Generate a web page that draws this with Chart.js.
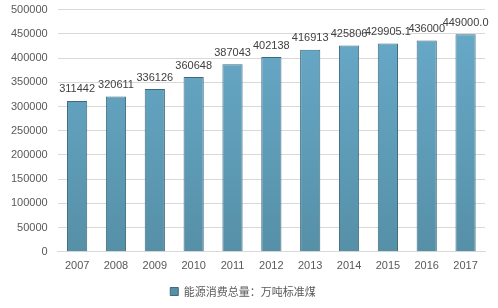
<!DOCTYPE html>
<html>
<head>
<meta charset="utf-8">
<script src="https://cdn.jsdelivr.net/npm/chart.js@4"></script>
<style>
  html, body { margin: 0; padding: 0; background: #fff; overflow: hidden; }
  #wrap { position: relative; top: -7px; width: 498px; height: 315px; }
</style>
</head>
<body>
<div id="wrap"><canvas id="energyChart"></canvas></div>
<script>
const years = ['2007', '2008', '2009', '2010', '2011', '2012', '2013', '2014', '2015', '2016', '2017'];
const consumption = [311442, 320611, 336126, 360648, 387043, 402138, 416913, 425806, 429905.1, 436000, 449000.0];
const valueLabels = ['311442', '320611', '336126', '360648', '387043', '402138', '416913', '425806', '429905.1', '436000', '449000.0'];

// value labels above each bar
const barLabels = {
    id: 'barLabels',
    afterDatasetsDraw(chart) {
        const ctx = chart.ctx;
        const meta = chart.getDatasetMeta(0);
        ctx.save();
        ctx.font = '11px "Liberation Sans", Arial, sans-serif';
        ctx.fillStyle = '#404040';
        ctx.textAlign = 'center';
        ctx.textBaseline = 'bottom';
        meta.data.forEach((bar, i) => {
            ctx.fillText(valueLabels[i], bar.x, bar.y - 6);
        });
        ctx.restore();
    }
};

const ctx = document.getElementById('energyChart').getContext('2d');
new Chart(ctx, {
    type: 'bar',
    data: {
        labels: years,
        datasets: [{
            label: '能源消费总量：万吨标准煤',
            data: consumption,
            backgroundColor: function (context) {
                const area = context.chart.chartArea;
                if (!area) return '#5e9fbd';
                const g = context.chart.ctx.createLinearGradient(0, area.top, 0, area.bottom);
                g.addColorStop(0, '#69abcb');
                g.addColorStop(1, '#5690a7');
                return g;
            },
            borderColor: '#3d6a7e',
            borderWidth: 1,
            categoryPercentage: 1,
            barPercentage: 0.52
        }]
    },
    options: {
        responsive: true,
        maintainAspectRatio: false,
        animation: false,
        layout: { padding: { top: 0, right: 13, left: 1, bottom: 1 } },
        plugins: {
            legend: {
                position: 'bottom',
                labels: {
                    boxWidth: 8,
                    boxHeight: 8,
                    padding: 5,
                    color: '#595959',
                    font: { size: 11, family: '"Noto Sans CJK SC", sans-serif' }
                }
            },
            tooltip: { enabled: false }
        },
        scales: {
            x: {
                grid: { display: false, drawTicks: false },
                border: { color: '#d9d9d9' },
                ticks: {
                    color: '#595959',
                    padding: 8,
                    font: { size: 11, family: '"Liberation Sans", Arial, sans-serif' }
                }
            },
            y: {
                min: 0,
                max: 500000,
                grid: { color: '#d9d9d9', drawTicks: false },
                border: { display: false },
                ticks: {
                    stepSize: 50000,
                    color: '#595959',
                    padding: 10,
                    callback: v => String(v),
                    font: { size: 11, family: '"Liberation Sans", Arial, sans-serif' }
                }
            }
        }
    },
    plugins: [barLabels]
});
</script>
</body>
</html>
